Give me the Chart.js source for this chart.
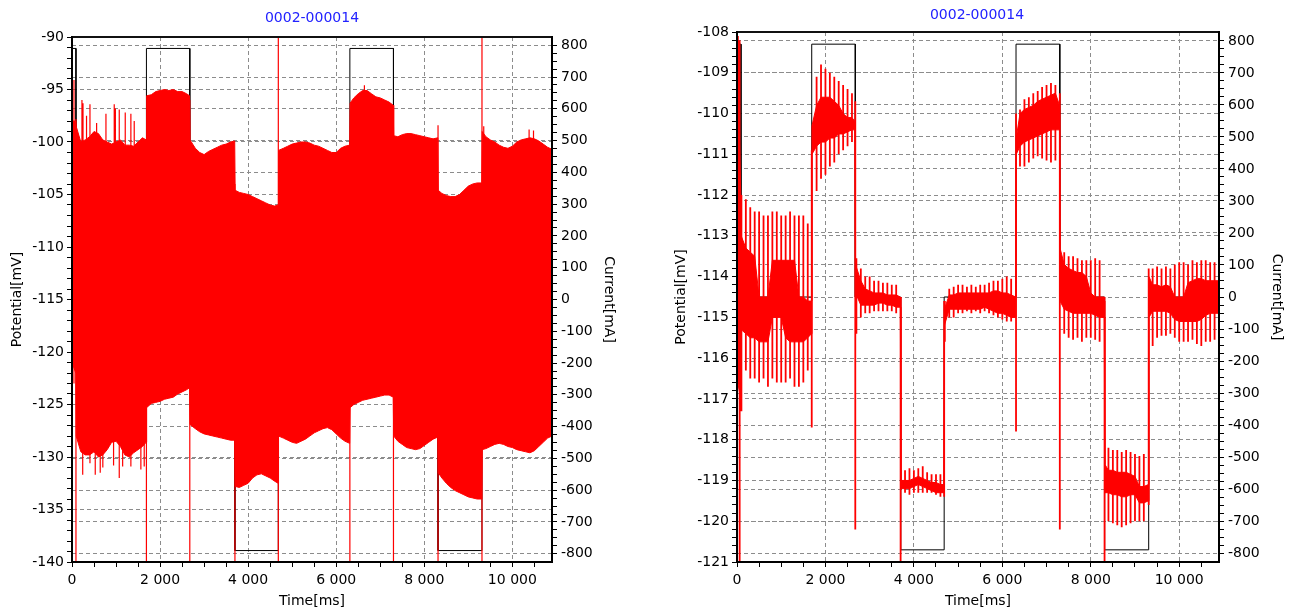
<!DOCTYPE html>
<html>
<head>
<meta charset="utf-8">
<script src="https://cdn.jsdelivr.net/npm/chart.js@4.4.1/dist/chart.umd.min.js"></script>
<style>
  body { margin: 0; background: #fff; }
  .panel { position: absolute; top: 0; width: 624px; height: 611px; }
</style>
</head>
<body>
<div class="panel" style="left:0"><canvas id="left" width="624" height="611"></canvas></div>
<div class="panel" style="left:665px"><canvas id="right" width="624" height="611"></canvas></div>
<script>
// --- DATA ---
// sample times (ms) for the dense part of the potential trace, one row per current step
const bandT = [
  0, 85,
  95, 200, 300, 400, 500, 600, 700, 800, 900, 1000, 1100, 1200, 1300, 1400, 1500, 1600, 1685,
  1695, 1800, 1900, 2000, 2100, 2200, 2300, 2400, 2500, 2600, 2670,
  2680, 2800, 2900, 3000, 3100, 3200, 3300, 3400, 3500, 3600, 3695,
  3705, 3800, 3900, 4000, 4100, 4200, 4300, 4400, 4500, 4600, 4680,
  4690, 4800, 4900, 5000, 5100, 5200, 5300, 5400, 5500, 5600, 5700, 5800, 5900, 6000, 6100, 6200, 6305,
  6315, 6400, 6500, 6600, 6700, 6800, 6900, 7000, 7100, 7200, 7295,
  7305, 7400, 7500, 7600, 7700, 7800, 7900, 8000, 8100, 8200, 8307,
  8317, 8400, 8500, 8600, 8700, 8800, 8900, 9000, 9100, 9200, 9305,
  9315, 9400, 9500, 9600, 9700, 9800, 9900, 10000, 10100, 10200, 10300, 10400, 10500, 10600, 10700, 10800, 10900
];

// left chart: upper / lower edge of the solid red band (mV)
const bandHiL = [
  -98.0, -98.0,
  -98.5, -100.0, -99.8, -99.5, -99.0, -99.2, -99.8, -100.0, -100.2, -100.0, -99.8, -100.3, -100.3, -100.4, -100.0, -99.6, -99.8,
  -95.6, -95.5, -95.2, -95.1, -95.0, -95.1, -95.0, -95.2, -95.2, -95.4, -95.6,
  -99.8, -100.6, -101.0, -101.2, -100.9, -100.7, -100.5, -100.3, -100.2, -100.0, -99.9,
  -104.6, -104.8, -104.9, -105.0, -105.2, -105.4, -105.6, -105.8, -106.0, -106.1, -106.0,
  -100.8, -100.6, -100.4, -100.2, -100.1, -100.0, -100.0, -100.1, -100.3, -100.4, -100.6, -100.8, -101.0, -101.0, -100.6, -100.4, -100.3,
  -96.3, -95.8, -95.4, -95.1, -95.1, -95.4, -95.7, -95.8, -96.0, -96.2, -96.5,
  -99.4, -99.5, -99.3, -99.2, -99.2, -99.3, -99.4, -99.5, -99.6, -99.7, -99.6,
  -104.6, -104.9, -105.1, -105.2, -105.2, -105.0, -104.6, -104.2, -104.0, -103.9, -103.9,
  -99.0, -99.5, -99.8, -100.0, -100.3, -100.5, -100.6, -100.4, -100.0, -99.8, -99.7, -99.6, -99.7, -99.9, -100.2, -100.5, -100.7
];
const bandLoL = [
  -121.0, -122.0,
  -128.0, -129.5, -129.8, -129.8, -129.5, -130.0, -129.8, -129.3, -128.6, -128.5, -129.0, -129.8, -130.0, -129.6, -129.3, -129.0, -128.6,
  -125.3, -124.9, -124.8, -124.7, -124.5, -124.4, -124.3, -124.0, -123.8, -123.6, -123.4,
  -126.9, -127.3, -127.6, -127.8, -127.9, -128.0, -128.1, -128.2, -128.3, -128.4, -128.4,
  -132.8, -132.9, -132.7, -132.5, -132.0, -131.7, -131.6, -131.8, -132.0, -132.3, -132.5,
  -128.0, -128.2, -128.4, -128.6, -128.7, -128.5, -128.3, -128.0, -127.7, -127.5, -127.3, -127.2, -127.4, -127.8, -128.2, -128.5, -128.7,
  -125.3, -125.0, -124.8, -124.6, -124.5, -124.4, -124.3, -124.2, -124.1, -124.1, -124.3,
  -128.0, -128.5, -128.8, -129.1, -129.2, -129.3, -129.2, -128.9, -128.6, -128.3, -128.1,
  -131.5, -132.0, -132.5, -132.9, -133.2, -133.4, -133.6, -133.8, -133.9, -134.0, -134.0,
  -129.3, -129.2, -129.0, -128.8, -128.7, -128.8, -129.0, -129.1, -129.3, -129.4, -129.5, -129.6, -129.4, -129.0, -128.6, -128.2, -128.0
];
// left chart: single spikes sticking out of the band
const spikeTL  = [45, 90, 226, 243, 250, 330, 408, 528, 559, 641, 700, 771, 944, 959, 985, 1073, 1150, 1209, 1337, 1413, 1564, 1640,
                  1690, 2675, 3700, 4685, 6310, 6640, 7300, 8312, 9310, 9350, 10380, 10480];
const spikeLoL = [-123, -140, -115, -131.7, -115, -115, -130.6, -131.7, -115, -131.5, -131.0, -115, -130.8, -115, -115, -132.0, -130.9, -115, -130.9, -115, -131.2, -130.9,
                  -140, -140, -140, -140, -140, -115, -140, -140, -140, -115, -115, -115];
const spikeHiL = [-94.1, -97.8, -96.0, -115, -96.3, -97.5, -96.4, -115, -98.2, -115, -115, -97.3, -115, -96.4, -96.8, -96.9, -115, -97.2, -97.3, -98.0, -115, -115,
                  -100, -96, -104, -90, -100, -94.6, -96.5, -98.4, -90, -98.5, -98.8, -98.9];

// right chart: dense core of the trace (mV)
const bandHiR = [
  -108.2, -112.0,
  -113.0, -113.3, -113.4, -113.5, -114.5, -114.5, -114.5, -113.6, -113.6, -113.6, -113.6, -113.6, -113.6, -114.5, -114.5, -114.6, -114.6,
  -110.3, -109.8, -109.6, -109.6, -109.6, -109.7, -109.8, -110.0, -110.1, -110.1, -110.2,
  -113.7, -114.1, -114.3, -114.35, -114.4, -114.4, -114.4, -114.45, -114.45, -114.45, -114.5,
  -119.0, -119.0, -119.0, -118.95, -118.9, -118.95, -119.0, -119.05, -119.05, -119.1, -119.1,
  -114.8, -114.45, -114.45, -114.4, -114.4, -114.4, -114.4, -114.4, -114.4, -114.4, -114.4, -114.35, -114.35, -114.4, -114.4, -114.45, -114.5,
  -110.6, -110.0, -109.9, -109.85, -109.8, -109.7, -109.65, -109.6, -109.55, -109.5, -109.8,
  -113.3, -113.7, -113.8, -113.85, -113.9, -113.9, -114.0, -114.4, -114.5, -114.5, -114.5,
  -118.6, -118.75, -118.75, -118.8, -118.8, -118.8, -118.85, -118.9, -119.15, -119.15, -119.1,
  -114.0, -114.2, -114.2, -114.25, -114.2, -114.25, -114.5, -114.5, -114.5, -114.15, -114.1, -114.05, -114.05, -114.1, -114.1, -114.1, -114.1
];
const bandLoR = [
  -116.5, -117.0,
  -115.3, -115.4, -115.5, -115.5, -115.6, -115.6, -115.6, -115.0, -115.0, -115.0, -115.5, -115.6, -115.6, -115.6, -115.6, -115.5, -115.4,
  -111.0, -110.8, -110.7, -110.7, -110.6, -110.6, -110.5, -110.5, -110.45, -110.4, -110.4,
  -114.4, -114.7, -114.7, -114.7, -114.7, -114.65, -114.65, -114.7, -114.7, -114.75, -114.75,
  -119.2, -119.2, -119.2, -119.15, -119.1, -119.15, -119.2, -119.25, -119.3, -119.3, -119.3,
  -115.2, -114.8, -114.8, -114.8, -114.8, -114.8, -114.8, -114.8, -114.8, -114.75, -114.8, -114.85, -114.9, -114.9, -114.95, -115.0, -115.0,
  -111.0, -110.8, -110.7, -110.65, -110.6, -110.55, -110.5, -110.45, -110.4, -110.4, -110.4,
  -114.6, -114.8, -114.85, -114.9, -114.9, -114.9, -114.9, -114.9, -114.95, -115.0, -115.0,
  -119.3, -119.3, -119.35, -119.35, -119.4, -119.4, -119.35, -119.35, -119.55, -119.55, -119.5,
  -115.0, -114.85, -114.85, -114.85, -114.85, -114.9, -115.05, -115.1, -115.1, -115.1, -115.1, -115.1, -115.05, -114.95, -114.9, -114.9, -114.9
];
// right chart: vertical spikes around the core
const spikeTR = [
  20, 60,
  100, 200, 300, 400, 500, 600, 700, 800, 900, 1000, 1100, 1200, 1300, 1400, 1500, 1600,
  1690, 1800, 1900, 2000, 2100, 2200, 2300, 2400, 2500, 2600,
  2675, 2700, 2800, 2900, 3000, 3100, 3200, 3300, 3400, 3500, 3600,
  3700, 3800, 3900, 4000, 4100, 4200, 4300, 4400, 4500, 4600,
  4685, 4700, 4800, 4900, 5000, 5100, 5200, 5300, 5400, 5500, 5600, 5700, 5800, 5900, 6000, 6100, 6200,
  6310, 6400, 6500, 6600, 6700, 6800, 6900, 7000, 7100, 7200,
  7300, 7400, 7500, 7600, 7700, 7800, 7900, 8000, 8100, 8200,
  8312, 8400, 8500, 8600, 8700, 8800, 8900, 9000, 9100, 9200,
  9310, 9400, 9500, 9600, 9700, 9800, 9900, 10000, 10100, 10200, 10300, 10400, 10500, 10600, 10700, 10800
];
const spikeHiR = [
  -108.1, -108.2,
  -112.0, -112.1, -112.3, -112.4, -112.4, -112.5, -112.5, -112.4, -112.4, -112.5, -112.5, -112.4, -112.5, -112.5, -112.5, -112.7,
  -110.9, -109.1, -108.8, -108.9, -109.0, -109.1, -109.2, -109.3, -109.4, -109.5,
  -109.7, -113.55, -113.8, -114.0, -114.0, -114.1, -114.1, -114.15, -114.15, -114.2, -114.2,
  -114.5, -118.75, -118.7, -118.75, -118.7, -118.65, -118.8, -118.85, -118.85, -118.85,
  -114.6, -114.6, -114.3, -114.25, -114.2, -114.2, -114.25, -114.2, -114.25, -114.2, -114.2, -114.15, -114.1, -114.1, -114.05, -114.0, -114.05,
  -110.0, -109.9, -109.65, -109.6, -109.5, -109.45, -109.35, -109.3, -109.25, -109.3,
  -109.5, -113.4, -113.5, -113.5, -113.55, -113.6, -113.6, -113.6, -113.55, -113.6,
  -114.6, -118.2, -118.25, -118.25, -118.3, -118.25, -118.3, -118.35, -118.4, -118.35,
  -113.8, -113.8, -113.75, -113.8, -113.75, -113.8, -113.7, -113.65, -113.65, -113.7, -113.6, -113.65, -113.6, -113.6, -113.65, -113.65
];
const spikeLoR = [
  -113.5, -121.0,
  -117.3, -116.3, -116.5, -116.5, -116.6, -116.5, -116.7, -116.5, -116.6, -116.6, -116.6, -116.5, -116.7, -116.7, -116.6, -116.3,
  -117.7, -111.9, -111.6, -111.5, -111.3, -111.2, -111.0, -110.9, -110.8, -110.7,
  -120.2, -115.4, -115.0, -114.9, -114.9, -114.85, -114.85, -114.85, -114.85, -114.85, -114.9,
  -121.0, -119.3, -119.35, -119.3, -119.3, -119.3, -119.3, -119.3, -119.35, -119.4,
  -119.4, -115.6, -115.0, -115.0, -114.9, -114.9, -114.85, -114.9, -114.85, -114.9, -114.85, -114.9, -114.95, -115.0, -115.05, -115.1, -115.1,
  -117.8, -111.3, -111.3, -111.2, -111.1, -111.05, -111.1, -111.15, -111.2, -111.15,
  -120.2, -115.4, -115.5, -115.55, -115.5, -115.6, -115.5, -115.5, -115.55, -115.6,
  -121.0, -120.0, -120.05, -120.1, -120.15, -120.1, -120.05, -120.0, -120.0, -120.0,
  -119.6, -115.7, -115.5, -115.45, -115.45, -115.4, -115.5, -115.6, -115.6, -115.6, -115.55, -115.65, -115.7, -115.6, -115.6, -115.55
];

// applied current (mA), same program for both runs
const curT  = [0, 90, 90, 1690, 1690, 2675, 2675, 3700, 3700, 4685, 4685, 6310, 6310, 7300, 7300, 8312, 8312, 9310, 9310, 10900];
const curMA = [790, 790, 0, 0, 790, 790, 0, 0, -790, -790, 0, 0, 790, 790, 0, 0, -790, -790, 0, 0];

// axis ticks
const timeTicks = [0, 2000, 4000, 6000, 8000, 10000];
const potTicksL = [-140, -135, -130, -125, -120, -115, -110, -105, -100, -95, -90];
const potTicksR = [-121, -120, -119, -118, -117, -116, -115, -114, -113, -112, -111, -110, -109, -108];
const curTicks  = [-800, -700, -600, -500, -400, -300, -200, -100, 0, 100, 200, 300, 400, 500, 600, 700, 800];

// --- CHART ---
const FONT = { family: 'DejaVu Sans', size: 14 };
const TFONT = { family: 'DejaVu Sans', size: 14, lineHeight: '15px' };
const GRID = '#8c8c8c';
const RED = '#ff0000';

const fmt = v => String(v).replace(/\B(?=(\d{3})+(?!\d))/g, ' ');

function steps(min, max, step) {
  const out = [];
  for (let v = min; v <= max + 1e-9; v += step) out.push(Math.round(v * 100) / 100);
  return out;
}

function axis(o) {
  return {
    type: 'linear', position: o.pos, min: o.min, max: o.max,
    afterBuildTicks: s => { s.ticks = o.all.map(v => ({ value: v })); },
    afterFit: s => { if (o.pos === 'bottom') s.height = o.size; else s.width = o.size; },
    ticks: {
      autoSkip: false, maxRotation: 0, minRotation: 0, padding: o.pad, color: '#000', font: FONT,
      callback: v => o.major.includes(v) ? fmt(v) : ''
    },
    grid: {
      color: c => (c.tick && o.major.includes(c.tick.value)) ? GRID : 'rgba(0,0,0,0)',
      tickColor: '#000', tickLength: 5, lineWidth: 1
    },
    border: { color: '#000', width: 2, dash: [4, 3], z: 1 },
    title: { display: true, text: o.title, color: '#000', font: TFONT, padding: { top: o.tpad, bottom: o.tpad } }
  };
}

const frameTop = {
  id: 'frameTop',
  afterDatasetsDraw(chart) {
    const { ctx, chartArea: a } = chart;
    ctx.save();
    ctx.strokeStyle = '#111';
    ctx.lineWidth = 2;
    ctx.beginPath();
    ctx.moveTo(a.left, a.top);
    ctx.lineTo(a.right, a.top);
    ctx.stroke();
    ctx.restore();
  }
};

const pts = (xs, ys) => xs.map((x, i) => ({ x, y: ys[i] }));
function spikePts(ts, lo, hi) {
  const out = [];
  ts.forEach((t, i) => { out.push({ x: t, y: lo[i] }, { x: t, y: hi[i] }, { x: t, y: null }); });
  return out;
}

function makeChart(id, p) {
  const line = { type: 'line', pointRadius: 0, borderWidth: 1, tension: 0, spanGaps: false, borderColor: RED, backgroundColor: RED };
  new Chart(document.getElementById(id), {
    type: 'line',
    data: {
      datasets: [
        { ...line, data: pts(bandT, p.hi), fill: false, order: 2 },
        { ...line, data: pts(bandT, p.lo), fill: '-1', order: 3 },
        { ...line, data: spikePts(p.sT, p.sLo, p.sHi), borderWidth: p.spikeW, fill: false, order: 1 },
        { ...line, data: pts(curT, curMA), borderColor: '#000', backgroundColor: '#000', fill: false, yAxisID: 'y2', order: 4 }
      ]
    },
    options: {
      responsive: false, animation: false, events: [],
      layout: { padding: 0 },
      plugins: {
        legend: { display: false }, tooltip: { enabled: false },
        title: { display: true, text: '0002-000014', color: '#2222ff', font: { ...TFONT, weight: 'normal' }, padding: p.titlePad }
      },
      scales: {
        x: axis({ pos: 'bottom', min: 0, max: 10900, all: steps(0, 10500, 500), major: timeTicks, size: 49, pad: 5, title: 'Time[ms]', tpad: 2 }),
        y: axis({ pos: 'left', min: p.yMin, max: p.yMax, all: steps(p.yMin, p.yMax, p.yMinor), major: p.yTicks, size: p.yW, pad: 3, title: 'Potential[mV]', tpad: p.yTitlePad }),
        y2: axis({ pos: 'right', min: -p.cMax, max: p.cMax, all: steps(-800, 800, 25), major: curTicks, size: p.y2W, pad: 4, title: 'Current[mA]', tpad: p.y2TitlePad })
      }
    },
    plugins: [frameTop]
  });
}

makeChart('left', {
  hi: bandHiL, lo: bandLoL, sT: spikeTL, sLo: spikeLoL, sHi: spikeHiL, spikeW: 1.2,
  yMin: -140, yMax: -90, yMinor: 1, yTicks: potTicksL, cMax: 826,
  yW: 72, y2W: 72, yTitlePad: 9.5, y2TitlePad: 8, titlePad: { top: 11, bottom: 11 }
});
makeChart('right', {
  hi: bandHiR, lo: bandLoR, sT: spikeTR, sLo: spikeLoR, sHi: spikeHiR, spikeW: 1.8,
  yMin: -121, yMax: -108, yMinor: 0.2, yTicks: potTicksR, cMax: 828,
  yW: 72, y2W: 70, yTitlePad: 8.5, y2TitlePad: 5, titlePad: { top: 8, bottom: 9 }
});
</script>
</body>
</html>
